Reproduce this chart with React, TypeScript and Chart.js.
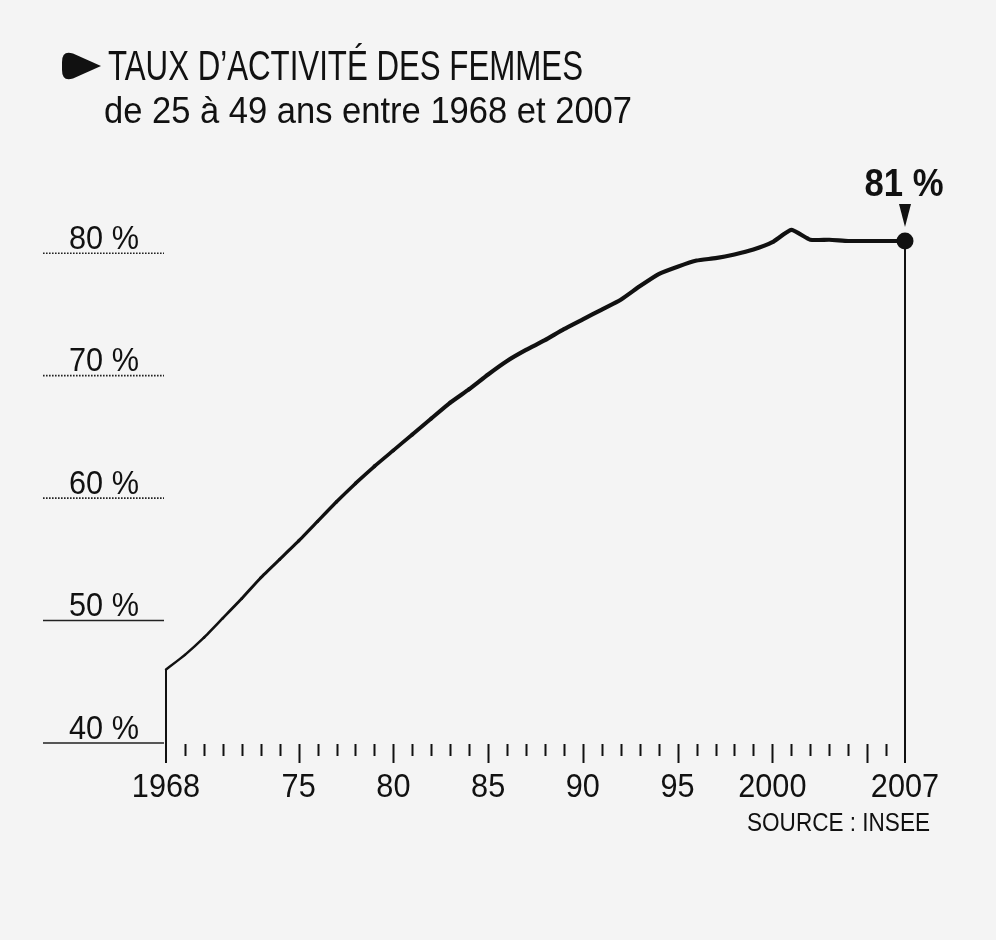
import React, { useEffect, useRef } from "react";
import { Chart, registerables } from "chart.js";

Chart.register(...registerables);

// ---- data ----
const years = [
  1968, 1969, 1970, 1971, 1972, 1973, 1974, 1975, 1976, 1977,
  1978, 1979, 1980, 1981, 1982, 1983, 1984, 1985, 1986, 1987,
  1988, 1989, 1990, 1991, 1992, 1993, 1994, 1995, 1996, 1997,
  1998, 1999, 2000, 2001, 2002, 2003, 2004, 2005, 2006, 2007,
];
const rates = [
  46.0, 47.2, 48.6, 50.2, 51.8, 53.5, 55.0, 56.5, 58.1, 59.7,
  61.2, 62.6, 63.9, 65.2, 66.5, 67.8, 68.9, 70.1, 71.2, 72.1,
  72.9, 73.8, 74.6, 75.4, 76.2, 77.3, 78.3, 78.9, 79.4, 79.6,
  79.9, 80.3, 80.9, 81.9, 81.1, 81.1, 81.0, 81.0, 81.0, 81.0,
];
const gridValues = [40, 50, 60, 70, 80];
const gridLabels = ["40 %", "50 %", "60 %", "70 %", "80 %"];
const xLabelYears = [1968, 1975, 1980, 1985, 1990, 1995, 2000, 2007];
const xLabelTexts = ["1968", "75", "80", "85", "90", "95", "2000", "2007"];
const majorTickYears = [1975, 1980, 1985, 1990, 1995, 2000, 2005];
const titleText = "TAUX D\u2019ACTIVIT\u00c9 DES FEMMES";
const subtitleText = "de 25 \u00e0 49 ans entre 1968 et 2007";
const sourceText = "SOURCE : INSEE";
const endLabel = "81 %";

const FONT = '"Liberation Sans", Arial, sans-serif';
const INK = "#111111";
const BG = "#f4f4f4";

function drawText(
  ctx: CanvasRenderingContext2D,
  text: string,
  x: number,
  y: number,
  size: number,
  weight: string,
  align: CanvasTextAlign,
  sx: number
) {
  ctx.save();
  ctx.font = `${weight} ${size}px ${FONT}`;
  ctx.textBaseline = "alphabetic";
  ctx.textAlign = align;
  ctx.fillStyle = INK;
  ctx.translate(x, y);
  ctx.scale(sx, 1);
  ctx.fillText(text, 0, 0);
  ctx.restore();
}

function fitText(
  ctx: CanvasRenderingContext2D,
  text: string,
  x: number,
  y: number,
  size: number,
  weight: string,
  width: number
) {
  ctx.save();
  ctx.font = `${weight} ${size}px ${FONT}`;
  const w = ctx.measureText(text).width;
  ctx.restore();
  drawText(ctx, text, x, y, size, weight, "left", width / w);
}

const decorPlugin = {
  id: "decor",
  beforeDraw(chart: any) {
    const ctx: CanvasRenderingContext2D = chart.ctx;
    ctx.save();
    ctx.fillStyle = BG;
    ctx.fillRect(0, 0, chart.width, chart.height);
    ctx.restore();
  },
  beforeDatasetsDraw(chart: any) {
    const ctx: CanvasRenderingContext2D = chart.ctx;
    const xs = chart.scales.x;
    const ys = chart.scales.y;
    const x0 = xs.getPixelForValue(years[0]);
    const xN = xs.getPixelForValue(years[years.length - 1]);
    const base = ys.getPixelForValue(gridValues[0]);

    // title
    ctx.save();
    ctx.fillStyle = INK;
    ctx.beginPath();
    ctx.moveTo(101, 66);
    ctx.lineTo(73, 53.5);
    ctx.quadraticCurveTo(62, 50, 62, 62);
    ctx.lineTo(62, 70);
    ctx.quadraticCurveTo(62, 82, 73, 78.5);
    ctx.closePath();
    ctx.fill();
    ctx.restore();
    fitText(ctx, titleText, 108, 80, 42, "normal", 475);
    fitText(ctx, subtitleText, 104, 123, 37, "normal", 528);

    // y gridlines (left stubs) and labels
    gridValues.forEach((v, i) => {
      const y = ys.getPixelForValue(v);
      ctx.save();
      ctx.strokeStyle = "#222";
      ctx.lineWidth = 1.6;
      if (v >= 60) ctx.setLineDash([1.6, 1.4]);
      ctx.beginPath();
      ctx.moveTo(x0 - 123, y);
      ctx.lineTo(x0 - 2, y);
      ctx.stroke();
      ctx.restore();
      drawText(ctx, gridLabels[i], x0 - 62, y - 4.5, 33, "normal", "center", 0.93);
    });

    // x ticks
    ctx.save();
    ctx.strokeStyle = INK;
    ctx.lineWidth = 2;
    years.slice(1, -1).forEach((yr) => {
      const x = Math.round(xs.getPixelForValue(yr)) + 0.5;
      const major = majorTickYears.includes(yr);
      ctx.beginPath();
      ctx.moveTo(x, base + 1);
      ctx.lineTo(x, base + (major ? 20 : 13));
      ctx.stroke();
    });
    // end verticals
    ctx.beginPath();
    ctx.moveTo(x0, ys.getPixelForValue(rates[0]));
    ctx.lineTo(x0, base + 20);
    ctx.moveTo(xN, ys.getPixelForValue(rates[rates.length - 1]));
    ctx.lineTo(xN, base + 20);
    ctx.stroke();
    ctx.restore();

    // x labels
    xLabelYears.forEach((yr, i) => {
      const x = xs.getPixelForValue(yr);
      drawText(ctx, xLabelTexts[i], x, base + 54, 33, "normal", "center", 0.93);
    });

    // source
    fitText(ctx, sourceText, 747, base + 88, 25, "normal", 183);
  },
  afterDatasetsDraw(chart: any) {
    const ctx: CanvasRenderingContext2D = chart.ctx;
    const xs = chart.scales.x;
    const ys = chart.scales.y;
    const px = xs.getPixelForValue(years[years.length - 1]);
    const py = ys.getPixelForValue(rates[rates.length - 1]);
    // down triangle marker
    ctx.save();
    ctx.fillStyle = INK;
    ctx.beginPath();
    ctx.moveTo(px - 6, py - 37);
    ctx.lineTo(px + 6, py - 37);
    ctx.lineTo(px, py - 14);
    ctx.closePath();
    ctx.fill();
    ctx.restore();
    drawText(ctx, endLabel, px - 1, py - 45, 39, "bold", "center", 0.89);
  },
};

export default function App() {
  const ref = useRef<HTMLCanvasElement | null>(null);

  useEffect(() => {
    document.body.style.margin = "0";
    document.body.style.background = BG;
    const canvas = ref.current;
    if (!canvas) return;
    const chart = new Chart(canvas, {
      type: "line",
      data: {
        datasets: [
          {
            data: years.map((yr, i) => ({ x: yr, y: rates[i] })),
            borderColor: INK,
            backgroundColor: INK,
            borderWidth: 4,
            tension: 0.15,
            fill: false,
            clip: false as any,
            borderCapStyle: "round",
            borderJoinStyle: "round",
            pointRadius: (c: any) => (c.dataIndex === years.length - 1 ? 8.5 : 0),
            pointHoverRadius: 0,
            pointBackgroundColor: INK,
            pointBorderWidth: 0,
            segment: {
              borderWidth: (c: any) => {
                const x = c.p0.parsed.x;
                return Math.min(4.2, 2.4 + (x - 1968) * 0.12);
              },
            },
          } as any,
        ],
      },
      options: {
        responsive: false,
        animation: false,
        events: [],
        layout: { padding: { left: 166, right: 91, top: 192, bottom: 197 } },
        scales: {
          x: { type: "linear", min: 1968, max: 2007, display: false },
          y: { type: "linear", min: 40, max: 85, display: false },
        },
        plugins: {
          legend: { display: false },
          tooltip: { enabled: false },
        },
      },
      plugins: [decorPlugin],
    });
    return () => chart.destroy();
  }, []);

  return (
    <div style={{ width: 996, height: 940, background: BG }}>
      <canvas ref={ref} width={996} height={940} style={{ display: "block", width: 996, height: 940 }} />
    </div>
  );
}
